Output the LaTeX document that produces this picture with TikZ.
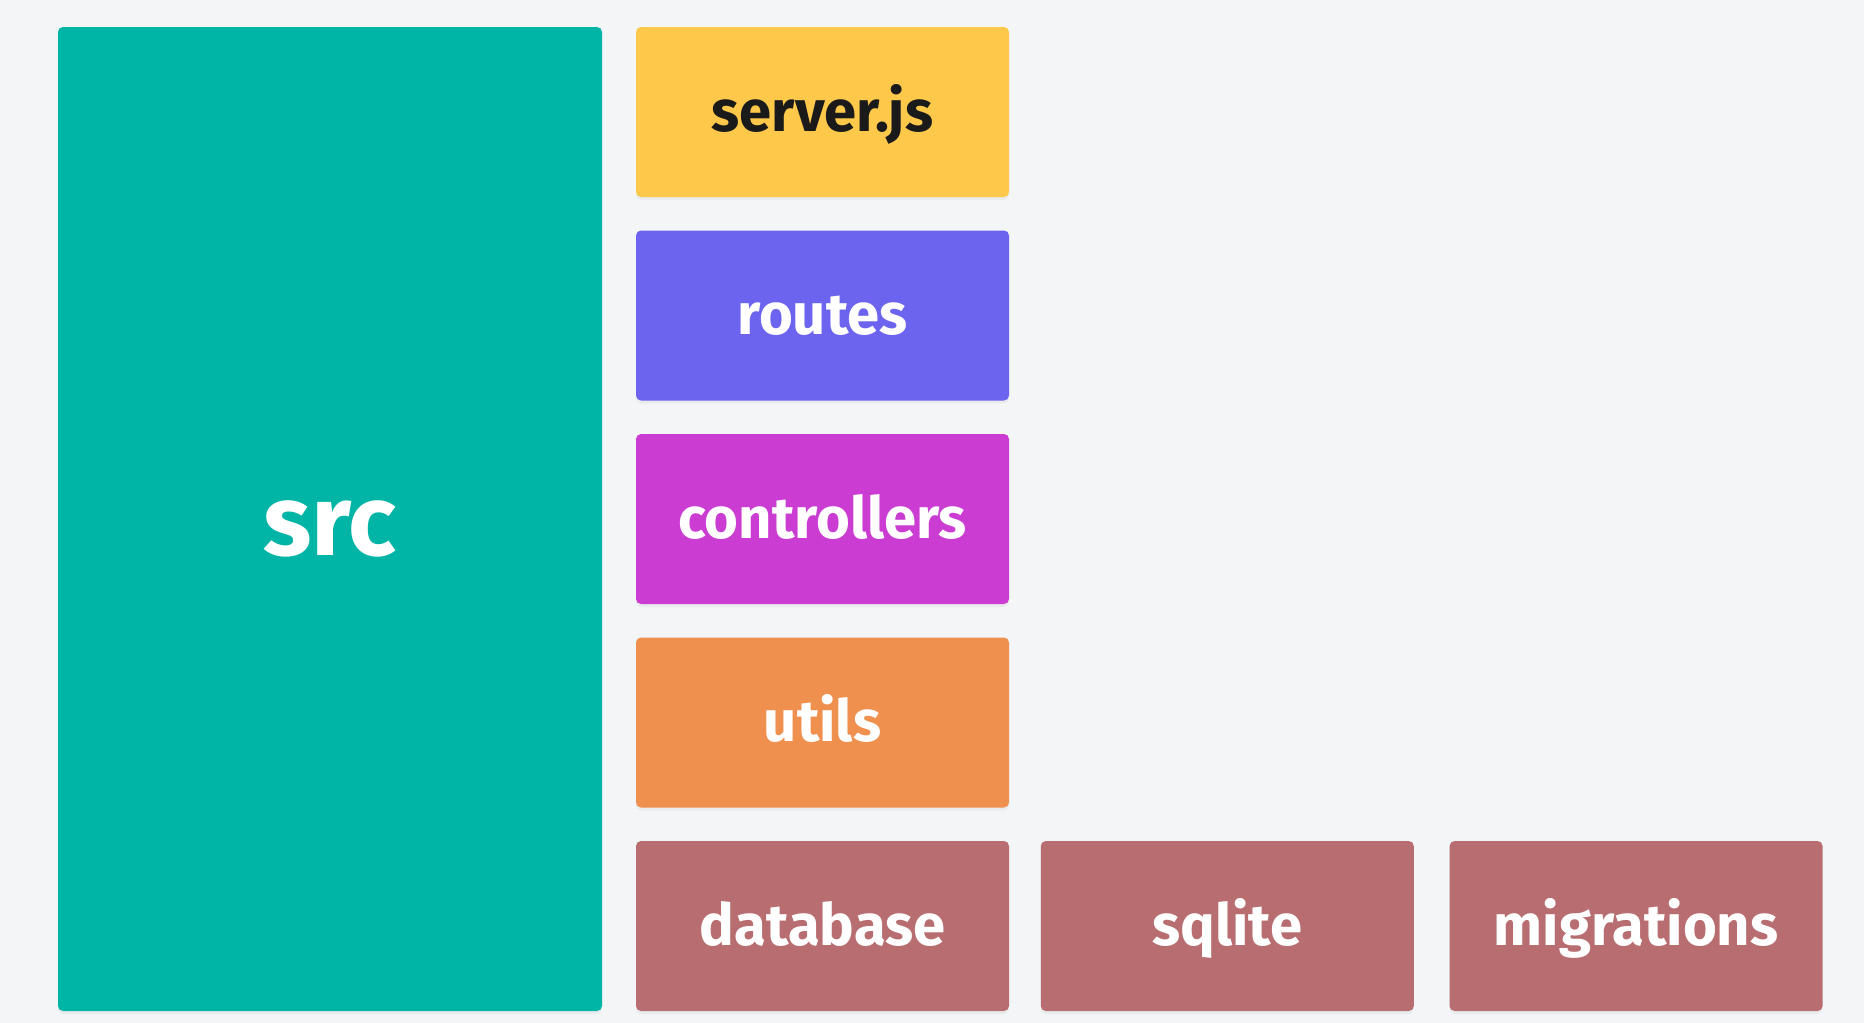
\documentclass[tikz,border=0pt]{standalone}
\usepackage{fontspec}
\setmainfont{Fira Sans}
\usetikzlibrary{positioning, shadows}
\definecolor{bgpage}{HTML}{F4F5F7}
\definecolor{srccol}{HTML}{01B5A6}
\definecolor{servercol}{HTML}{FEC84B}
\definecolor{routescol}{HTML}{6C63EE}
\definecolor{ctrlcol}{HTML}{CB3CD3}
\definecolor{utilscol}{HTML}{F0904F}
\definecolor{dbcol}{HTML}{B86E71}
\definecolor{darktext}{HTML}{1A1A1A}
\tikzset{
folder/.style={shape=rectangle, rounded corners=2.5pt, minimum width=186.5pt, minimum height=85pt, inner sep=0, text height=19pt, text depth=0pt, font=\bfseries\fontsize{29}{31}\selectfont, text=white, drop shadow={opacity=0.08, shadow xshift=0pt, shadow yshift=-1.5pt}},
rootdir/.style={folder, minimum width=272pt, minimum height=492pt, text height=36pt, font=\bfseries\fontsize{50}{54}\selectfont}}

\begin{document}
\begin{tikzpicture}[x=0.5pt, y=-0.5pt]
\useasboundingbox [fill=bgpage] (0,0) rectangle (1864,1023);
\node [rootdir, fill=srccol] at (330, 519) (src) {src};
\foreach \flabel/\fcol/\ftext [count=\j, evaluate={\fy=112 + 203.5 * (\j - 1);}] in {server/servercol/darktext, routes/routescol/white, controllers/ctrlcol/white, utils/utilscol/white, database/dbcol/white}{
      \node [folder, fill=\fcol, text=\ftext] at (822.5, \fy) (f-\j) {\ifnum\j=1 server.js\else\flabel\fi};
}
\node [folder, fill=dbcol, right=15.5pt of f-5] (sqlite) {sqlite};
\node [folder, fill=dbcol, right=17.5pt of sqlite] (migrations) {migrations};
\end{tikzpicture}
\end{document}
